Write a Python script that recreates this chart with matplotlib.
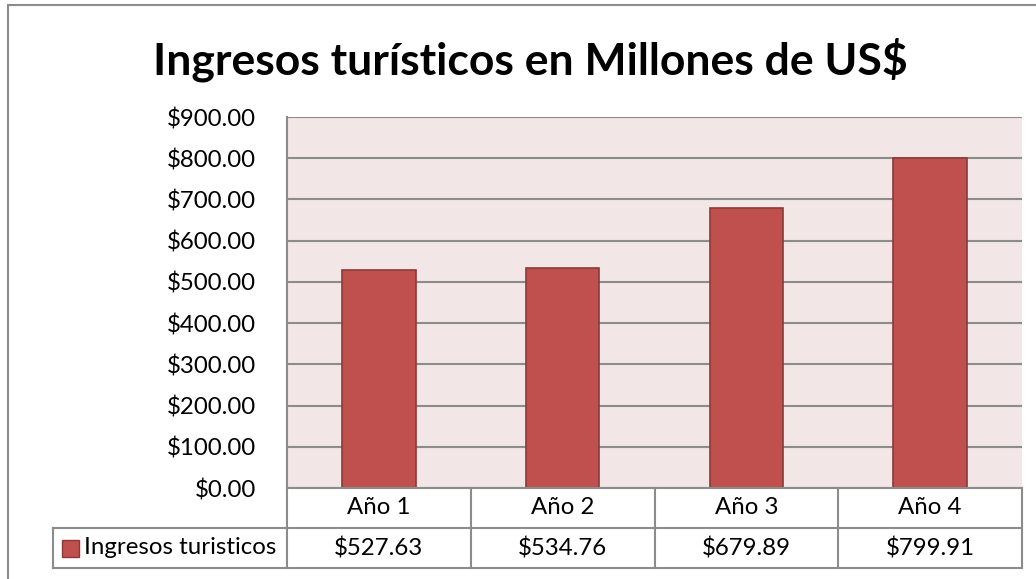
import matplotlib.pyplot as plt
from matplotlib.patches import Rectangle
from matplotlib.lines import Line2D

# datos
categorias = ["Año 1", "Año 2", "Año 3", "Año 4"]
ingresos = [527.63, 534.76, 679.89, 799.91]
serie = "Ingresos turisticos"
titulo = "Ingresos turísticos en Millones de US$"

W, H = 1036, 579
bar_color = "#C0504D"
edge_color = "#8C3A38"
grid_color = "#8C8C8C"
fondo = "#F2E6E6"
fs = 17.3

plt.rcParams['font.family'] = ['Lato', 'DejaVu Sans']

fig = plt.figure(figsize=(W / 100, H / 100), dpi=100)


def fx(x):
    return x / W


def fy(y):
    return 1 - y / H


# plot area in pixels
left, right, top, bottom = 287, 1022, 117, 488
ax = fig.add_axes([fx(left), fy(bottom), fx(right) - fx(left), fy(top) - fy(bottom)])
ax.set_facecolor(fondo)

x = range(len(categorias))
ax.bar(x, ingresos, width=0.4, color=bar_color, edgecolor=edge_color, linewidth=1.2, zorder=3)
ax.set_xlim(-0.5, len(categorias) - 0.5)
ax.set_ylim(0, 900)
ax.set_yticks(range(0, 901, 100))
ax.set_yticklabels([f"${v:.2f}" for v in range(0, 901, 100)], fontsize=fs)
ax.tick_params(axis='y', length=0, pad=22.5)
ax.set_xticks([])
ax.grid(axis='y', color=grid_color, linewidth=1.5, zorder=1)
for s in ["top", "right", "bottom"]:
    ax.spines[s].set_visible(False)
ax.spines["left"].set_color(grid_color)
ax.spines["left"].set_linewidth(1.5)

# title
fig.text(fx(530), fy(60), titulo, fontsize=32, fontweight='bold', ha='center', va='center')

# data table
row_h = 40
legend_left = 53
col_w = (right - left) / len(categorias)


def hline(x0, x1, y):
    fig.add_artist(Line2D([fx(x0), fx(x1)], [fy(y), fy(y)], color=grid_color, linewidth=1.5))


def vline(x, y0, y1):
    fig.add_artist(Line2D([fx(x), fx(x)], [fy(y0), fy(y1)], color=grid_color, linewidth=1.5))


hline(left, right, bottom)
hline(legend_left, right, bottom + row_h)
hline(legend_left, right, bottom + 2 * row_h)
vline(legend_left, bottom + row_h, bottom + 2 * row_h)
for i in range(len(categorias) + 1):
    vline(left + i * col_w, bottom, bottom + 2 * row_h)

for i, (cat, val) in enumerate(zip(categorias, ingresos)):
    cx = left + (i + 0.5) * col_w
    fig.text(fx(cx), fy(bottom + row_h / 2), cat, fontsize=fs, ha='center', va='center')
    fig.text(fx(cx), fy(bottom + 1.5 * row_h), f"${val:.2f}", fontsize=fs, ha='center', va='center')

# legend key
fig.add_artist(Rectangle((fx(62), fy(557)), fx(79) - fx(62), fy(540) - fy(557),
                         facecolor=bar_color, edgecolor=edge_color, linewidth=1))
fig.text(fx(84), fy(bottom + 1.5 * row_h), serie, fontsize=fs, ha='left', va='center')

# outer chart border
fig.add_artist(Rectangle((fx(8), fy(H + 10)), fx(W + 10), fy(5) - fy(H + 10),
                         facecolor='none', edgecolor='#8C8C8C', linewidth=1.5))

fig.savefig("out.png", dpi=100)
